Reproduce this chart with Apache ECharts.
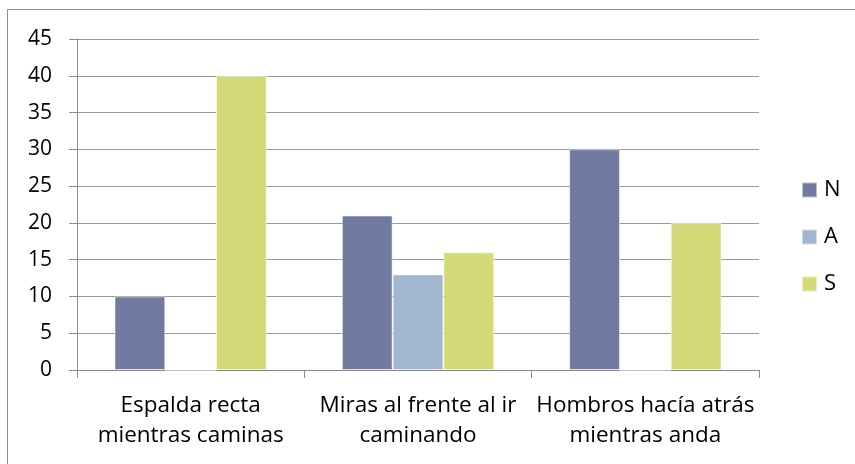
<!DOCTYPE html>
<html>
<head>
<meta charset="utf-8">
<script src="https://cdn.jsdelivr.net/npm/echarts@6/dist/echarts.min.js"></script>
<style>
  html, body { margin: 0; padding: 0; background: #fff; }
  #chart { width: 855px; height: 464px; }
</style>
</head>
<body>
<div id="chart"></div>
<script>
// datos del gráfico
const categorias = ["Espalda recta\nmientras caminas", "Miras al frente al ir\ncaminando", "Hombros hacía atrás\nmientras anda"];
const serieN = [10, 21, 30];
const serieA = [0, 13, 0];
const serieS = [40, 16, 20];
const yTicks = { min: 0, max: 45, interval: 5 };

const fuente = "'Open Sans', Lato, sans-serif";
const chart = echarts.init(document.getElementById("chart"));

function barra(nombre, datos, color) {
  return {
    name: nombre,
    type: "bar",
    data: datos,
    barGap: 0,
    barCategoryGap: "33%",
    itemStyle: { color: color, borderColor: "rgba(255,255,255,0.5)", borderWidth: 1 }
  };
}

let option = {
  animation: false,
  textStyle: { fontFamily: fuente },
  graphic: [{
    type: "rect",
    shape: { x: 7.5, y: 9.5, width: 860, height: 470 },
    style: { fill: "none", stroke: "#8c8c8c", lineWidth: 1 }
  }],
  grid: { left: 77, right: 96, top: 39, bottom: 94, containLabel: false },
  legend: {
    orient: "vertical",
    left: 801,
    top: 179,
    padding: 0,
    itemWidth: 15,
    itemHeight: 15,
    itemGap: 25,
    icon: "rect",
    textStyle: { fontSize: 22, color: "#000", fontFamily: fuente, padding: [0, 0, 0, 2] },
    data: ["N", "A", "S"]
  },
  xAxis: {
    type: "category",
    data: categorias,
    axisLine: { lineStyle: { color: "#8c8c8c" } },
    axisTick: { show: true, length: 8, lineStyle: { color: "#8c8c8c" } },
    axisLabel: { color: "#000", fontSize: 22.5, lineHeight: 30, margin: 21, interval: 0 }
  },
  yAxis: {
    type: "value",
    min: yTicks.min,
    max: yTicks.max,
    interval: yTicks.interval,
    axisLine: { show: true, lineStyle: { color: "#8c8c8c" } },
    axisTick: { show: true, length: 8, lineStyle: { color: "#8c8c8c" } },
    splitLine: { lineStyle: { color: "#999", width: 1 } },
    axisLabel: { color: "#000", fontSize: 21, margin: 25 }
  },
  series: [
    barra("N", serieN, "#717ba2"),
    barra("A", serieA, "#a0b7cf"),
    barra("S", serieS, "#d4da78")
  ]
};
option && chart.setOption(option);
</script>
</body>
</html>
